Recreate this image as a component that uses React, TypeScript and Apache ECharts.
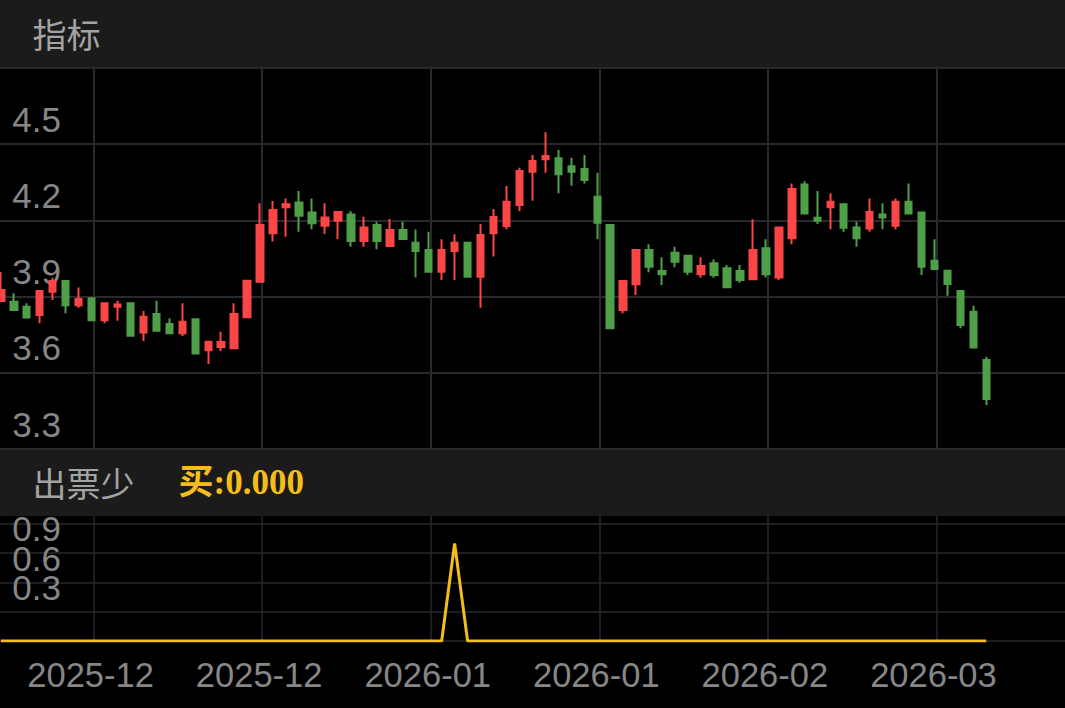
import React, { useEffect, useRef } from "react";
import * as echarts from "echarts";

// Daily candles (oldest → newest)
const opens = [
  3.882, 3.879, 3.86, 3.827, 3.919, 3.961, 3.866, 3.893, 3.807, 3.86,
  3.873, 3.758, 3.831, 3.792, 3.755, 3.811, 3.689, 3.701, 3.696, 3.818,
  3.958, 4.149, 4.251, 4.27, 4.231, 4.178, 4.198, 4.223, 4.118, 4.181,
  4.099, 4.162, 4.112, 4.083, 3.997, 4.079, 4.112, 3.978, 4.149, 4.177,
  4.26, 4.391, 4.44, 4.444, 4.413, 4.402, 4.293, 4.181, 3.847, 3.948,
  4.083, 4.0, 4.072, 4.06, 3.988, 4.031, 4.011, 4.0, 3.968, 4.09,
  3.975, 4.129, 4.341, 4.21, 4.251, 4.263, 4.172, 4.168, 4.223, 4.178,
  4.273, 4.231, 4.041, 4.001, 3.922, 3.84, 3.65,
];
const closes = [
  3.926, 3.847, 3.817, 3.922, 3.961, 3.866, 3.89, 3.807, 3.873, 3.869,
  3.746, 3.82, 3.765, 3.755, 3.801, 3.676, 3.722, 3.721, 3.831, 3.962,
  4.181, 4.24, 4.263, 4.218, 4.188, 4.211, 4.233, 4.118, 4.172, 4.118,
  4.162, 4.126, 4.079, 3.997, 4.083, 4.112, 3.978, 4.142, 4.213, 4.273,
  4.394, 4.433, 4.453, 4.381, 4.391, 4.358, 4.19, 3.775, 3.961, 4.083,
  4.017, 3.988, 4.037, 3.997, 4.02, 3.985, 3.936, 3.965, 4.083, 3.988,
  4.172, 4.323, 4.227, 4.198, 4.273, 4.171, 4.129, 4.233, 4.211, 4.273,
  4.227, 4.017, 4.008, 3.949, 3.788, 3.699, 3.497,
];
const lows = [
  3.878, 3.845, 3.815, 3.795, 3.886, 3.834, 3.856, 3.805, 3.795, 3.805,
  3.744, 3.725, 3.763, 3.753, 3.745, 3.674, 3.634, 3.686, 3.694, 3.816,
  3.956, 4.116, 4.135, 4.155, 4.165, 4.146, 4.126, 4.096, 4.096, 4.086,
  4.096, 4.124, 3.975, 3.995, 3.965, 3.965, 3.976, 3.856, 4.057, 4.165,
  4.236, 4.277, 4.387, 4.306, 4.336, 4.345, 4.125, 3.773, 3.834, 3.906,
  3.995, 3.945, 4.015, 3.985, 3.974, 3.974, 3.934, 3.954, 3.966, 3.975,
  3.965, 4.106, 4.225, 4.185, 4.165, 4.155, 4.096, 4.155, 4.165, 4.165,
  4.225, 3.985, 4.006, 3.903, 3.775, 3.697, 3.473,
];
const highs = [
  3.996, 3.913, 3.873, 3.924, 3.974, 3.962, 3.935, 3.895, 3.875, 3.883,
  3.875, 3.843, 3.883, 3.814, 3.873, 3.813, 3.724, 3.761, 3.873, 3.965,
  4.267, 4.276, 4.286, 4.315, 4.286, 4.267, 4.236, 4.236, 4.214, 4.194,
  4.205, 4.194, 4.164, 4.155, 4.125, 4.145, 4.114, 4.185, 4.244, 4.335,
  4.407, 4.457, 4.546, 4.476, 4.446, 4.457, 4.387, 4.183, 3.963, 4.085,
  4.106, 4.054, 4.096, 4.062, 4.054, 4.046, 4.024, 4.024, 4.204, 4.125,
  4.174, 4.345, 4.354, 4.315, 4.306, 4.265, 4.194, 4.286, 4.267, 4.286,
  4.345, 4.233, 4.125, 4.003, 3.924, 3.864, 3.663,
];
// "出票少" buy signal
const signal = [
  0, 0, 0, 0, 0, 0, 0, 0, 0, 0,
  0, 0, 0, 0, 0, 0, 0, 0, 0, 0,
  0, 0, 0, 0, 0, 0, 0, 0, 0, 0,
  0, 0, 0, 0, 0, 1, 0, 0, 0, 0,
  0, 0, 0, 0, 0, 0, 0, 0, 0, 0,
  0, 0, 0, 0, 0, 0, 0, 0, 0, 0,
  0, 0, 0, 0, 0, 0, 0, 0, 0, 0,
  0, 0, 0, 0, 0, 0, 0,
];
const xTickLabels = ["2025-12", "2025-12", "2026-01", "2026-01", "2026-02", "2026-03"];
const priceTicks = [3.3, 3.6, 3.9, 4.2, 4.5];
const signalTicksOuter = [0.3, 0.9];
const signalTicksMiddle = [0.6];

const RED = "#fa4646";
const GREEN = "#4f9f48";
const YELLOW = "#f4bd1c";
const GRID = "#28282e";
const LABEL = "#878787";
const TITLE = "#a3a3a3";
const BAND = "#1b1b1b";
const SANS = '"Liberation Sans", Arial, sans-serif';
const CJK = '"Noto Sans CJK SC", sans-serif';

// chart canvas is shifted left so the column grid starts on a whole column
const OFF = 75.5;
const VIEW_W = 1065;
const CHART_W = VIEW_W + OFF;
const H = 708;

export default function App() {
  const ref = useRef<HTMLDivElement>(null);

  useEffect(() => {
    document.body.style.margin = "0";
    const el = ref.current!;
    const chart = echarts.init(el, null, { renderer: "svg" });

    const n = opens.length;
    const slot = 12.96;
    const firstCenter = 0.3 + OFF;
    const gl = firstCenter - slot / 2;
    const gr = CHART_W - (gl + n * slot);
    const categories = opens.map((_, i) => String(i + 1));
    const candleData = opens.map((o, i) => [o, closes[i], lows[i], highs[i]]);

    const vStep = 168.5;
    const vMax = CHART_W / vStep;

    const labelStyle = { color: LABEL, fontFamily: SANS };
    const topPanel = { top: 66, bottom: H - 449 };
    const lowPanel = { top: 515, bottom: H - 641 };
    const priceRange = { min: 3.3, max: 4.807, interval: 0.3 };
    const sigRange = { min: 0, max: 1.292, interval: 0.3 };
    // the app prints the signal labels ~24px above their grid lines
    const sigLabelShift = 0.251;

    const sigLabelAxis = (values: number[]) => ({
      type: "value", gridIndex: 1, position: "left", offset: 0,
      min: sigRange.min - sigLabelShift, max: sigRange.max - sigLabelShift,
      axisLine: { show: false }, axisTick: { show: false }, splitLine: { show: false },
      axisLabel: {
        inside: true, customValues: values, ...labelStyle, fontSize: 35,
        verticalAlign: "middle", lineHeight: 27, margin: 18,
        showMinLabel: true, showMaxLabel: true,
        formatter: (v: number) => v.toFixed(1),
      },
    });

    const option: any = {
      animation: false,
      backgroundColor: "#000",
      grid: [
        { left: gl, right: gr, ...topPanel },
        { left: gl, right: gr, ...lowPanel },
        { left: 0, right: 0, ...topPanel },
        { left: 0, right: 0, ...lowPanel },
      ],
      xAxis: [
        { type: "category", gridIndex: 0, data: categories, boundaryGap: true, show: false },
        { type: "category", gridIndex: 1, data: categories, boundaryGap: true, show: false },
        {
          type: "value", gridIndex: 2, min: 0, max: vMax, interval: 1,
          axisLine: { show: false }, axisTick: { show: false }, axisLabel: { show: false },
          splitLine: { show: true, lineStyle: { color: GRID, width: 2 } },
        },
        {
          type: "value", gridIndex: 3, min: 0, max: vMax, interval: 1,
          axisLine: { show: false }, axisTick: { show: false },
          axisLabel: {
            show: true, ...labelStyle, fontSize: 34.5, margin: 16, padding: [0, 6, 0, 0],
            showMaxLabel: false, showMinLabel: false,
            formatter: (v: number) => {
              const k = Math.round(v);
              return Math.abs(v - k) < 1e-6 && k >= 1 && k <= xTickLabels.length ? xTickLabels[k - 1] : "";
            },
          },
          splitLine: { show: true, lineStyle: { color: GRID, width: 1.5 } },
        },
      ],
      yAxis: [
        {
          type: "value", gridIndex: 0, ...priceRange,
          axisLine: { show: false }, axisTick: { show: false },
          splitLine: { show: false },
          axisLabel: {
            inside: true, customValues: priceTicks, ...labelStyle, fontSize: 35,
            verticalAlign: "bottom", lineHeight: 50, margin: 18,
            showMinLabel: true, showMaxLabel: true,
            formatter: (v: number) => v.toFixed(1),
          },
        },
        {
          type: "value", gridIndex: 1, ...sigRange, position: "left",
          axisLine: { show: false }, axisTick: { show: false },
          splitLine: { show: false }, axisLabel: { show: false },
        },
        {
          type: "value", gridIndex: 2, ...priceRange,
          axisLine: { show: false }, axisTick: { show: false }, axisLabel: { show: false },
          splitLine: { show: true, lineStyle: { color: GRID, width: 2 } },
        },
        {
          type: "value", gridIndex: 3, ...sigRange,
          axisLine: { show: false }, axisTick: { show: false }, axisLabel: { show: false },
          splitLine: { show: true, lineStyle: { color: GRID, width: 1.5 } },
        },
        sigLabelAxis(signalTicksOuter),
        sigLabelAxis(signalTicksMiddle),
      ],
      series: [
        {
          type: "candlestick",
          xAxisIndex: 0,
          yAxisIndex: 0,
          data: candleData,
          barWidth: 7,
          clip: false,
          itemStyle: {
            color: RED,
            color0: GREEN,
            borderColor: RED,
            borderColor0: GREEN,
            borderWidth: 2,
          },
        },
        {
          type: "line",
          xAxisIndex: 1,
          yAxisIndex: 1,
          data: signal,
          symbol: "none",
          lineStyle: { color: YELLOW, width: 3 },
        },
      ],
      graphic: [
        { type: "rect", z: 50, shape: { x: 0, y: 0, width: CHART_W, height: 67 }, style: { fill: BAND } },
        { type: "rect", z: 50, shape: { x: 0, y: 450, width: CHART_W, height: 66 }, style: { fill: BAND } },
        {
          type: "text", z: 51, x: OFF + 32, y: 33,
          style: { text: "指标", fill: TITLE, fontSize: 34, fontFamily: CJK, verticalAlign: "middle" },
        },
        {
          type: "text", z: 51, x: OFF + 32, y: 482,
          style: { text: "出票少", fill: TITLE, fontSize: 34, fontFamily: CJK, verticalAlign: "middle" },
        },
        {
          type: "text", z: 51, x: OFF + 178, y: 482,
          style: {
            text: `买:${signal[signal.length - 1].toFixed(3)}`,
            fill: YELLOW, fontSize: 35, fontWeight: "bold",
            fontFamily: '"Liberation Serif", "Noto Sans CJK SC", serif',
            verticalAlign: "middle",
          },
        },
      ],
    };

    chart.setOption(option);
    return () => chart.dispose();
  }, []);

  return (
    <div style={{ position: "relative", width: VIEW_W, height: H, overflow: "hidden", background: "#000" }}>
      <div ref={ref} style={{ position: "absolute", left: -OFF, top: 0, width: CHART_W, height: H }} />
    </div>
  );
}
